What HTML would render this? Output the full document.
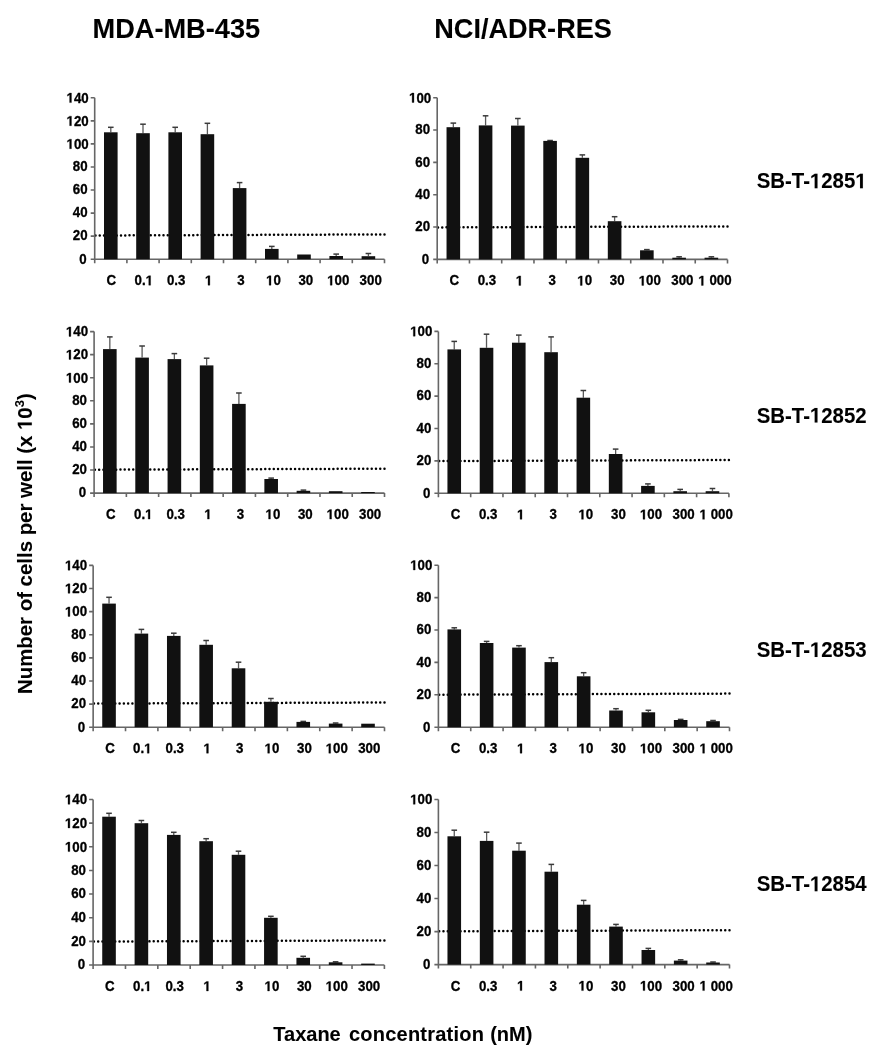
<!DOCTYPE html>
<html><head><meta charset="utf-8"><style>
html,body{margin:0;padding:0;background:#fff;}
body{width:881px;height:1050px;overflow:hidden;}
svg{display:block;filter:grayscale(1);font-family:"Liberation Sans", sans-serif;font-weight:bold;}
text{stroke:#000;stroke-linejoin:round;}
.h{fill-opacity:0;stroke-opacity:0;}
use{fill:#000;stroke:#000;stroke-linejoin:round;}
</style></head><body>
<svg width="881" height="1050" viewBox="0 0 881 1050">
<defs><path id="one" d="M478 0L478 1170L140 959L140 1180L493 1409L759 1409L759 0Z"/></defs><rect width="881" height="1050" fill="#fff"/>
<g stroke-width="0.08">
<text transform="translate(92.5 38.4) scale(1 1.04)" font-size="27.2">MDA-MB-435</text>
<text transform="translate(434.3 38.4) scale(1 1.04)" font-size="27.1">NCI/ADR-RES</text>
<text transform="translate(756.7 188.3) scale(1 1.04)" font-size="20.4">SB-T-<tspan class="h">1</tspan>285<tspan class="h">1</tspan></text><use href="#one" transform="translate(756.7 188.3) scale(1 1.04) translate(53.22 0.00) scale(0.00996 -0.00996)" stroke-width="8.0"/><use href="#one" transform="translate(756.7 188.3) scale(1 1.04) translate(98.59 0.00) scale(0.00996 -0.00996)" stroke-width="8.0"/>
<text transform="translate(756.7 422.5) scale(1 1.04)" font-size="20.4">SB-T-<tspan class="h">1</tspan>2852</text><use href="#one" transform="translate(756.7 422.5) scale(1 1.04) translate(53.22 0.00) scale(0.00996 -0.00996)" stroke-width="8.0"/>
<text transform="translate(756.7 657) scale(1 1.04)" font-size="20.4">SB-T-<tspan class="h">1</tspan>2853</text><use href="#one" transform="translate(756.7 657) scale(1 1.04) translate(53.22 0.00) scale(0.00996 -0.00996)" stroke-width="8.0"/>
<text transform="translate(756.7 891.2) scale(1 1.04)" font-size="20.4">SB-T-<tspan class="h">1</tspan>2854</text><use href="#one" transform="translate(756.7 891.2) scale(1 1.04) translate(53.22 0.00) scale(0.00996 -0.00996)" stroke-width="8.0"/>
<text transform="translate(31.8,694) rotate(-90)" font-size="20.4">Number of cells per well (x <tspan class="h">1</tspan>0<tspan font-size="13" dy="-7.4">3</tspan><tspan dy="7.4">)</tspan></text><use href="#one" transform="translate(31.8,694) rotate(-90) translate(264.03 0.00) scale(0.00996 -0.00996)" stroke-width="8.0"/>
<text x="273.3" y="1040.8" font-size="20">Taxane</text>
<text x="349" y="1040.8" font-size="20" letter-spacing="0.22">concentration</text>
<text x="490.2" y="1040.8" font-size="20">(nM)</text>
</g>
<g font-size="13.3" fill="#000" stroke-width="0.3">
<line x1="95.5" y1="235.5" x2="384.55" y2="234.4" stroke="#000" stroke-width="2.5" stroke-linecap="round" stroke-dasharray="0.01 4.2400"/>
<path d="M94.7 97.8V259.2M90.7 259.2H94.7M90.7 236.14H94.7M90.7 213.09H94.7M90.7 190.03H94.7M90.7 166.97H94.7M90.7 143.91H94.7M90.7 120.86H94.7M90.7 97.8H94.7M90.7 259.2H384.5M94.7 259.2V263.2M126.9 259.2V263.2M159.1 259.2V263.2M191.3 259.2V263.2M223.5 259.2V263.2M255.7 259.2V263.2M287.9 259.2V263.2M320.1 259.2V263.2M352.3 259.2V263.2M384.5 259.2V263.2" stroke="#666" stroke-width="1.6" fill="none"/>
<line x1="110.8" y1="132.3" x2="110.8" y2="127.3" stroke="#5a5a5a" stroke-width="1.3"/>
<line x1="108" y1="127.3" x2="113.6" y2="127.3" stroke="#3a3a3a" stroke-width="1.5"/>
<rect x="104" y="132.3" width="13.6" height="126.9" fill="#111"/>
<line x1="143" y1="133.2" x2="143" y2="124.2" stroke="#5a5a5a" stroke-width="1.3"/>
<line x1="140.2" y1="124.2" x2="145.8" y2="124.2" stroke="#3a3a3a" stroke-width="1.5"/>
<rect x="136.2" y="133.2" width="13.6" height="126" fill="#111"/>
<line x1="175.2" y1="132.3" x2="175.2" y2="127.3" stroke="#5a5a5a" stroke-width="1.3"/>
<line x1="172.4" y1="127.3" x2="178" y2="127.3" stroke="#3a3a3a" stroke-width="1.5"/>
<rect x="168.4" y="132.3" width="13.6" height="126.9" fill="#111"/>
<line x1="207.4" y1="134.2" x2="207.4" y2="123.3" stroke="#5a5a5a" stroke-width="1.3"/>
<line x1="204.6" y1="123.3" x2="210.2" y2="123.3" stroke="#3a3a3a" stroke-width="1.5"/>
<rect x="200.6" y="134.2" width="13.6" height="125" fill="#111"/>
<line x1="239.6" y1="188.1" x2="239.6" y2="182.6" stroke="#5a5a5a" stroke-width="1.3"/>
<line x1="236.8" y1="182.6" x2="242.4" y2="182.6" stroke="#3a3a3a" stroke-width="1.5"/>
<rect x="232.8" y="188.1" width="13.6" height="71.1" fill="#111"/>
<line x1="271.8" y1="248.9" x2="271.8" y2="246.4" stroke="#5a5a5a" stroke-width="1.3"/>
<line x1="269" y1="246.4" x2="274.6" y2="246.4" stroke="#3a3a3a" stroke-width="1.5"/>
<rect x="265" y="248.9" width="13.6" height="10.3" fill="#111"/>
<rect x="297.2" y="254.5" width="13.6" height="4.7" fill="#111"/>
<line x1="336.2" y1="256" x2="336.2" y2="254.1" stroke="#5a5a5a" stroke-width="1.3"/>
<line x1="333.4" y1="254.1" x2="339" y2="254.1" stroke="#3a3a3a" stroke-width="1.5"/>
<rect x="329.4" y="256" width="13.6" height="3.2" fill="#111"/>
<line x1="368.4" y1="256.2" x2="368.4" y2="253.5" stroke="#5a5a5a" stroke-width="1.3"/>
<line x1="365.6" y1="253.5" x2="371.2" y2="253.5" stroke="#3a3a3a" stroke-width="1.5"/>
<rect x="361.6" y="256.2" width="13.6" height="3" fill="#111"/>
<text transform="translate(86.7 263.5) scale(1 1.04)" text-anchor="end">0</text>
<text transform="translate(87.6 240.44) scale(1 1.04)" text-anchor="end">20</text>
<text transform="translate(87.6 217.39) scale(1 1.04)" text-anchor="end">40</text>
<text transform="translate(87.6 194.33) scale(1 1.04)" text-anchor="end">60</text>
<text transform="translate(87.6 171.27) scale(1 1.04)" text-anchor="end">80</text>
<text transform="translate(88.7 148.71) scale(1 1.04)" text-anchor="end"><tspan class="h">1</tspan>00</text><use href="#one" transform="translate(88.7 148.71) scale(1 1.04) translate(-22.18 0.00) scale(0.00649 -0.00649)" stroke-width="46.2"/>
<text transform="translate(88.7 125.66) scale(1 1.04)" text-anchor="end"><tspan class="h">1</tspan>20</text><use href="#one" transform="translate(88.7 125.66) scale(1 1.04) translate(-22.18 0.00) scale(0.00649 -0.00649)" stroke-width="46.2"/>
<text transform="translate(88.7 102.6) scale(1 1.04)" text-anchor="end"><tspan class="h">1</tspan>40</text><use href="#one" transform="translate(88.7 102.6) scale(1 1.04) translate(-22.18 0.00) scale(0.00649 -0.00649)" stroke-width="46.2"/>
<text transform="translate(111.4 285.2) scale(1 1.04)" text-anchor="middle">C</text>
<text transform="translate(143.81 285.2) scale(1 1.04)" text-anchor="middle">0.<tspan class="h">1</tspan></text><use href="#one" transform="translate(143.81 285.2) scale(1 1.04) translate(1.85 0.00) scale(0.00649 -0.00649)" stroke-width="46.2"/>
<text transform="translate(176.22 285.2) scale(1 1.04)" text-anchor="middle">0.3</text>
<text transform="translate(208.63 285.2) scale(1 1.04)" text-anchor="middle"><tspan class="h">1</tspan></text><use href="#one" transform="translate(208.63 285.2) scale(1 1.04) translate(-3.70 0.00) scale(0.00649 -0.00649)" stroke-width="46.2"/>
<text transform="translate(241.04 285.2) scale(1 1.04)" text-anchor="middle">3</text>
<text transform="translate(273.45 285.2) scale(1 1.04)" text-anchor="middle"><tspan class="h">1</tspan>0</text><use href="#one" transform="translate(273.45 285.2) scale(1 1.04) translate(-7.40 0.00) scale(0.00649 -0.00649)" stroke-width="46.2"/>
<text transform="translate(305.86 285.2) scale(1 1.04)" text-anchor="middle">30</text>
<text transform="translate(338.27 285.2) scale(1 1.04)" text-anchor="middle"><tspan class="h">1</tspan>00</text><use href="#one" transform="translate(338.27 285.2) scale(1 1.04) translate(-11.09 0.00) scale(0.00649 -0.00649)" stroke-width="46.2"/>
<text transform="translate(370.68 285.2) scale(1 1.04)" text-anchor="middle">300</text>
<line x1="94.9" y1="469.7" x2="384.55" y2="468.7" stroke="#000" stroke-width="2.5" stroke-linecap="round" stroke-dasharray="0.01 4.2488"/>
<path d="M94.1 331.6V493.1M90.1 493.1H94.1M90.1 470.03H94.1M90.1 446.96H94.1M90.1 423.89H94.1M90.1 400.81H94.1M90.1 377.74H94.1M90.1 354.67H94.1M90.1 331.6H94.1M90.1 493.1H384.5M94.1 493.1V497.1M126.37 493.1V497.1M158.63 493.1V497.1M190.9 493.1V497.1M223.17 493.1V497.1M255.43 493.1V497.1M287.7 493.1V497.1M319.97 493.1V497.1M352.23 493.1V497.1M384.5 493.1V497.1" stroke="#666" stroke-width="1.6" fill="none"/>
<line x1="109.83" y1="349.1" x2="109.83" y2="336.9" stroke="#5a5a5a" stroke-width="1.3"/>
<line x1="107.03" y1="336.9" x2="112.63" y2="336.9" stroke="#3a3a3a" stroke-width="1.5"/>
<rect x="103.03" y="349.1" width="13.6" height="144" fill="#111"/>
<line x1="142.1" y1="357.6" x2="142.1" y2="346" stroke="#5a5a5a" stroke-width="1.3"/>
<line x1="139.3" y1="346" x2="144.9" y2="346" stroke="#3a3a3a" stroke-width="1.5"/>
<rect x="135.3" y="357.6" width="13.6" height="135.5" fill="#111"/>
<line x1="174.37" y1="359.1" x2="174.37" y2="353.6" stroke="#5a5a5a" stroke-width="1.3"/>
<line x1="171.57" y1="353.6" x2="177.17" y2="353.6" stroke="#3a3a3a" stroke-width="1.5"/>
<rect x="167.57" y="359.1" width="13.6" height="134" fill="#111"/>
<line x1="206.63" y1="365.4" x2="206.63" y2="358.2" stroke="#5a5a5a" stroke-width="1.3"/>
<line x1="203.83" y1="358.2" x2="209.43" y2="358.2" stroke="#3a3a3a" stroke-width="1.5"/>
<rect x="199.83" y="365.4" width="13.6" height="127.7" fill="#111"/>
<line x1="238.9" y1="403.9" x2="238.9" y2="393" stroke="#5a5a5a" stroke-width="1.3"/>
<line x1="236.1" y1="393" x2="241.7" y2="393" stroke="#3a3a3a" stroke-width="1.5"/>
<rect x="232.1" y="403.9" width="13.6" height="89.2" fill="#111"/>
<line x1="271.17" y1="479" x2="271.17" y2="478.1" stroke="#5a5a5a" stroke-width="1.3"/>
<line x1="268.37" y1="478.1" x2="273.97" y2="478.1" stroke="#3a3a3a" stroke-width="1.5"/>
<rect x="264.37" y="479" width="13.6" height="14.1" fill="#111"/>
<line x1="303.43" y1="490.8" x2="303.43" y2="490.1" stroke="#5a5a5a" stroke-width="1.3"/>
<line x1="300.63" y1="490.1" x2="306.23" y2="490.1" stroke="#3a3a3a" stroke-width="1.5"/>
<rect x="296.63" y="490.8" width="13.6" height="2.3" fill="#111"/>
<rect x="328.9" y="491.2" width="13.6" height="1.9" fill="#111"/>
<rect x="361.17" y="492" width="13.6" height="1.1" fill="#111"/>
<text transform="translate(86.1 497.4) scale(1 1.04)" text-anchor="end">0</text>
<text transform="translate(87 474.33) scale(1 1.04)" text-anchor="end">20</text>
<text transform="translate(87 451.26) scale(1 1.04)" text-anchor="end">40</text>
<text transform="translate(87 428.19) scale(1 1.04)" text-anchor="end">60</text>
<text transform="translate(87 405.11) scale(1 1.04)" text-anchor="end">80</text>
<text transform="translate(88.1 382.54) scale(1 1.04)" text-anchor="end"><tspan class="h">1</tspan>00</text><use href="#one" transform="translate(88.1 382.54) scale(1 1.04) translate(-22.18 0.00) scale(0.00649 -0.00649)" stroke-width="46.2"/>
<text transform="translate(88.1 359.47) scale(1 1.04)" text-anchor="end"><tspan class="h">1</tspan>20</text><use href="#one" transform="translate(88.1 359.47) scale(1 1.04) translate(-22.18 0.00) scale(0.00649 -0.00649)" stroke-width="46.2"/>
<text transform="translate(88.1 336.4) scale(1 1.04)" text-anchor="end"><tspan class="h">1</tspan>40</text><use href="#one" transform="translate(88.1 336.4) scale(1 1.04) translate(-22.18 0.00) scale(0.00649 -0.00649)" stroke-width="46.2"/>
<text transform="translate(110.83 519.1) scale(1 1.04)" text-anchor="middle">C</text>
<text transform="translate(143.24 519.1) scale(1 1.04)" text-anchor="middle">0.<tspan class="h">1</tspan></text><use href="#one" transform="translate(143.24 519.1) scale(1 1.04) translate(1.85 0.00) scale(0.00649 -0.00649)" stroke-width="46.2"/>
<text transform="translate(175.65 519.1) scale(1 1.04)" text-anchor="middle">0.3</text>
<text transform="translate(208.06 519.1) scale(1 1.04)" text-anchor="middle"><tspan class="h">1</tspan></text><use href="#one" transform="translate(208.06 519.1) scale(1 1.04) translate(-3.70 0.00) scale(0.00649 -0.00649)" stroke-width="46.2"/>
<text transform="translate(240.47 519.1) scale(1 1.04)" text-anchor="middle">3</text>
<text transform="translate(272.88 519.1) scale(1 1.04)" text-anchor="middle"><tspan class="h">1</tspan>0</text><use href="#one" transform="translate(272.88 519.1) scale(1 1.04) translate(-7.40 0.00) scale(0.00649 -0.00649)" stroke-width="46.2"/>
<text transform="translate(305.29 519.1) scale(1 1.04)" text-anchor="middle">30</text>
<text transform="translate(337.7 519.1) scale(1 1.04)" text-anchor="middle"><tspan class="h">1</tspan>00</text><use href="#one" transform="translate(337.7 519.1) scale(1 1.04) translate(-11.09 0.00) scale(0.00649 -0.00649)" stroke-width="46.2"/>
<text transform="translate(370.11 519.1) scale(1 1.04)" text-anchor="middle">300</text>
<line x1="93.95" y1="703.6" x2="384.55" y2="702.5" stroke="#000" stroke-width="2.5" stroke-linecap="round" stroke-dasharray="0.01 4.2628"/>
<path d="M93.15 565.4V727.2M89.15 727.2H93.15M89.15 704.09H93.15M89.15 680.97H93.15M89.15 657.86H93.15M89.15 634.74H93.15M89.15 611.63H93.15M89.15 588.51H93.15M89.15 565.4H93.15M89.15 727.2H384.5M93.15 727.2V731.2M125.52 727.2V731.2M157.89 727.2V731.2M190.27 727.2V731.2M222.64 727.2V731.2M255.01 727.2V731.2M287.38 727.2V731.2M319.76 727.2V731.2M352.13 727.2V731.2M384.5 727.2V731.2" stroke="#666" stroke-width="1.6" fill="none"/>
<line x1="109.04" y1="603.6" x2="109.04" y2="597.3" stroke="#5a5a5a" stroke-width="1.3"/>
<line x1="106.24" y1="597.3" x2="111.84" y2="597.3" stroke="#3a3a3a" stroke-width="1.5"/>
<rect x="102.24" y="603.6" width="13.6" height="123.6" fill="#111"/>
<line x1="141.41" y1="633.6" x2="141.41" y2="629.4" stroke="#5a5a5a" stroke-width="1.3"/>
<line x1="138.61" y1="629.4" x2="144.21" y2="629.4" stroke="#3a3a3a" stroke-width="1.5"/>
<rect x="134.61" y="633.6" width="13.6" height="93.6" fill="#111"/>
<line x1="173.78" y1="635.9" x2="173.78" y2="633.2" stroke="#5a5a5a" stroke-width="1.3"/>
<line x1="170.98" y1="633.2" x2="176.58" y2="633.2" stroke="#3a3a3a" stroke-width="1.5"/>
<rect x="166.98" y="635.9" width="13.6" height="91.3" fill="#111"/>
<line x1="206.15" y1="644.8" x2="206.15" y2="640.5" stroke="#5a5a5a" stroke-width="1.3"/>
<line x1="203.35" y1="640.5" x2="208.95" y2="640.5" stroke="#3a3a3a" stroke-width="1.5"/>
<rect x="199.35" y="644.8" width="13.6" height="82.4" fill="#111"/>
<line x1="238.53" y1="668.3" x2="238.53" y2="662.2" stroke="#5a5a5a" stroke-width="1.3"/>
<line x1="235.72" y1="662.2" x2="241.33" y2="662.2" stroke="#3a3a3a" stroke-width="1.5"/>
<rect x="231.72" y="668.3" width="13.6" height="58.9" fill="#111"/>
<line x1="270.9" y1="701.8" x2="270.9" y2="698.5" stroke="#5a5a5a" stroke-width="1.3"/>
<line x1="268.1" y1="698.5" x2="273.7" y2="698.5" stroke="#3a3a3a" stroke-width="1.5"/>
<rect x="264.1" y="701.8" width="13.6" height="25.4" fill="#111"/>
<line x1="303.27" y1="721.9" x2="303.27" y2="721.4" stroke="#5a5a5a" stroke-width="1.3"/>
<line x1="300.47" y1="721.4" x2="306.07" y2="721.4" stroke="#3a3a3a" stroke-width="1.5"/>
<rect x="296.47" y="721.9" width="13.6" height="5.3" fill="#111"/>
<line x1="335.64" y1="723.6" x2="335.64" y2="723" stroke="#5a5a5a" stroke-width="1.3"/>
<line x1="332.84" y1="723" x2="338.44" y2="723" stroke="#3a3a3a" stroke-width="1.5"/>
<rect x="328.84" y="723.6" width="13.6" height="3.6" fill="#111"/>
<rect x="361.21" y="723.7" width="13.6" height="3.5" fill="#111"/>
<text transform="translate(85.15 731.5) scale(1 1.04)" text-anchor="end">0</text>
<text transform="translate(86.05 708.39) scale(1 1.04)" text-anchor="end">20</text>
<text transform="translate(86.05 685.27) scale(1 1.04)" text-anchor="end">40</text>
<text transform="translate(86.05 662.16) scale(1 1.04)" text-anchor="end">60</text>
<text transform="translate(86.05 639.04) scale(1 1.04)" text-anchor="end">80</text>
<text transform="translate(87.15 616.43) scale(1 1.04)" text-anchor="end"><tspan class="h">1</tspan>00</text><use href="#one" transform="translate(87.15 616.43) scale(1 1.04) translate(-22.18 0.00) scale(0.00649 -0.00649)" stroke-width="46.2"/>
<text transform="translate(87.15 593.31) scale(1 1.04)" text-anchor="end"><tspan class="h">1</tspan>20</text><use href="#one" transform="translate(87.15 593.31) scale(1 1.04) translate(-22.18 0.00) scale(0.00649 -0.00649)" stroke-width="46.2"/>
<text transform="translate(87.15 570.2) scale(1 1.04)" text-anchor="end"><tspan class="h">1</tspan>40</text><use href="#one" transform="translate(87.15 570.2) scale(1 1.04) translate(-22.18 0.00) scale(0.00649 -0.00649)" stroke-width="46.2"/>
<text transform="translate(109.94 753.2) scale(1 1.04)" text-anchor="middle">C</text>
<text transform="translate(142.35 753.2) scale(1 1.04)" text-anchor="middle">0.<tspan class="h">1</tspan></text><use href="#one" transform="translate(142.35 753.2) scale(1 1.04) translate(1.85 0.00) scale(0.00649 -0.00649)" stroke-width="46.2"/>
<text transform="translate(174.76 753.2) scale(1 1.04)" text-anchor="middle">0.3</text>
<text transform="translate(207.17 753.2) scale(1 1.04)" text-anchor="middle"><tspan class="h">1</tspan></text><use href="#one" transform="translate(207.17 753.2) scale(1 1.04) translate(-3.70 0.00) scale(0.00649 -0.00649)" stroke-width="46.2"/>
<text transform="translate(239.58 753.2) scale(1 1.04)" text-anchor="middle">3</text>
<text transform="translate(271.99 753.2) scale(1 1.04)" text-anchor="middle"><tspan class="h">1</tspan>0</text><use href="#one" transform="translate(271.99 753.2) scale(1 1.04) translate(-7.40 0.00) scale(0.00649 -0.00649)" stroke-width="46.2"/>
<text transform="translate(304.4 753.2) scale(1 1.04)" text-anchor="middle">30</text>
<text transform="translate(336.81 753.2) scale(1 1.04)" text-anchor="middle"><tspan class="h">1</tspan>00</text><use href="#one" transform="translate(336.81 753.2) scale(1 1.04) translate(-11.09 0.00) scale(0.00649 -0.00649)" stroke-width="46.2"/>
<text transform="translate(369.22 753.2) scale(1 1.04)" text-anchor="middle">300</text>
<line x1="93.9" y1="941.6" x2="384.45" y2="940.4" stroke="#000" stroke-width="2.5" stroke-linecap="round" stroke-dasharray="0.01 4.2621"/>
<path d="M93.1 799.5V965M89.1 965H93.1M89.1 941.36H93.1M89.1 917.71H93.1M89.1 894.07H93.1M89.1 870.43H93.1M89.1 846.79H93.1M89.1 823.14H93.1M89.1 799.5H93.1M89.1 965H384.4M93.1 965V969M125.47 965V969M157.83 965V969M190.2 965V969M222.57 965V969M254.93 965V969M287.3 965V969M319.67 965V969M352.03 965V969M384.4 965V969" stroke="#666" stroke-width="1.6" fill="none"/>
<line x1="109.03" y1="816.7" x2="109.03" y2="813.3" stroke="#5a5a5a" stroke-width="1.3"/>
<line x1="106.23" y1="813.3" x2="111.83" y2="813.3" stroke="#3a3a3a" stroke-width="1.5"/>
<rect x="102.23" y="816.7" width="13.6" height="148.3" fill="#111"/>
<line x1="141.4" y1="823.2" x2="141.4" y2="820.5" stroke="#5a5a5a" stroke-width="1.3"/>
<line x1="138.6" y1="820.5" x2="144.2" y2="820.5" stroke="#3a3a3a" stroke-width="1.5"/>
<rect x="134.6" y="823.2" width="13.6" height="141.8" fill="#111"/>
<line x1="173.77" y1="834.9" x2="173.77" y2="832.3" stroke="#5a5a5a" stroke-width="1.3"/>
<line x1="170.97" y1="832.3" x2="176.57" y2="832.3" stroke="#3a3a3a" stroke-width="1.5"/>
<rect x="166.97" y="834.9" width="13.6" height="130.1" fill="#111"/>
<line x1="206.13" y1="841.2" x2="206.13" y2="838.7" stroke="#5a5a5a" stroke-width="1.3"/>
<line x1="203.33" y1="838.7" x2="208.93" y2="838.7" stroke="#3a3a3a" stroke-width="1.5"/>
<rect x="199.33" y="841.2" width="13.6" height="123.8" fill="#111"/>
<line x1="238.5" y1="854.8" x2="238.5" y2="851.2" stroke="#5a5a5a" stroke-width="1.3"/>
<line x1="235.7" y1="851.2" x2="241.3" y2="851.2" stroke="#3a3a3a" stroke-width="1.5"/>
<rect x="231.7" y="854.8" width="13.6" height="110.2" fill="#111"/>
<line x1="270.87" y1="917.8" x2="270.87" y2="916.3" stroke="#5a5a5a" stroke-width="1.3"/>
<line x1="268.07" y1="916.3" x2="273.67" y2="916.3" stroke="#3a3a3a" stroke-width="1.5"/>
<rect x="264.07" y="917.8" width="13.6" height="47.2" fill="#111"/>
<line x1="303.23" y1="957.8" x2="303.23" y2="956.3" stroke="#5a5a5a" stroke-width="1.3"/>
<line x1="300.43" y1="956.3" x2="306.03" y2="956.3" stroke="#3a3a3a" stroke-width="1.5"/>
<rect x="296.43" y="957.8" width="13.6" height="7.2" fill="#111"/>
<line x1="335.6" y1="962.3" x2="335.6" y2="961.8" stroke="#5a5a5a" stroke-width="1.3"/>
<line x1="332.8" y1="961.8" x2="338.4" y2="961.8" stroke="#3a3a3a" stroke-width="1.5"/>
<rect x="328.8" y="962.3" width="13.6" height="2.7" fill="#111"/>
<rect x="361.17" y="963.6" width="13.6" height="1.4" fill="#111"/>
<text transform="translate(85.1 969.3) scale(1 1.04)" text-anchor="end">0</text>
<text transform="translate(86 945.66) scale(1 1.04)" text-anchor="end">20</text>
<text transform="translate(86 922.01) scale(1 1.04)" text-anchor="end">40</text>
<text transform="translate(86 898.37) scale(1 1.04)" text-anchor="end">60</text>
<text transform="translate(86 874.73) scale(1 1.04)" text-anchor="end">80</text>
<text transform="translate(87.1 851.59) scale(1 1.04)" text-anchor="end"><tspan class="h">1</tspan>00</text><use href="#one" transform="translate(87.1 851.59) scale(1 1.04) translate(-22.18 0.00) scale(0.00649 -0.00649)" stroke-width="46.2"/>
<text transform="translate(87.1 827.94) scale(1 1.04)" text-anchor="end"><tspan class="h">1</tspan>20</text><use href="#one" transform="translate(87.1 827.94) scale(1 1.04) translate(-22.18 0.00) scale(0.00649 -0.00649)" stroke-width="46.2"/>
<text transform="translate(87.1 804.3) scale(1 1.04)" text-anchor="end"><tspan class="h">1</tspan>40</text><use href="#one" transform="translate(87.1 804.3) scale(1 1.04) translate(-22.18 0.00) scale(0.00649 -0.00649)" stroke-width="46.2"/>
<text transform="translate(109.88 991) scale(1 1.04)" text-anchor="middle">C</text>
<text transform="translate(142.29 991) scale(1 1.04)" text-anchor="middle">0.<tspan class="h">1</tspan></text><use href="#one" transform="translate(142.29 991) scale(1 1.04) translate(1.85 0.00) scale(0.00649 -0.00649)" stroke-width="46.2"/>
<text transform="translate(174.7 991) scale(1 1.04)" text-anchor="middle">0.3</text>
<text transform="translate(207.11 991) scale(1 1.04)" text-anchor="middle"><tspan class="h">1</tspan></text><use href="#one" transform="translate(207.11 991) scale(1 1.04) translate(-3.70 0.00) scale(0.00649 -0.00649)" stroke-width="46.2"/>
<text transform="translate(239.52 991) scale(1 1.04)" text-anchor="middle">3</text>
<text transform="translate(271.93 991) scale(1 1.04)" text-anchor="middle"><tspan class="h">1</tspan>0</text><use href="#one" transform="translate(271.93 991) scale(1 1.04) translate(-7.40 0.00) scale(0.00649 -0.00649)" stroke-width="46.2"/>
<text transform="translate(304.34 991) scale(1 1.04)" text-anchor="middle">30</text>
<text transform="translate(336.75 991) scale(1 1.04)" text-anchor="middle"><tspan class="h">1</tspan>00</text><use href="#one" transform="translate(336.75 991) scale(1 1.04) translate(-11.09 0.00) scale(0.00649 -0.00649)" stroke-width="46.2"/>
<text transform="translate(369.16 991) scale(1 1.04)" text-anchor="middle">300</text>
<line x1="438" y1="227.4" x2="727.55" y2="226.4" stroke="#000" stroke-width="2.5" stroke-linecap="round" stroke-dasharray="0.01 4.2474"/>
<path d="M437.2 97.7V259.4M433.2 259.4H437.2M433.2 227.06H437.2M433.2 194.72H437.2M433.2 162.38H437.2M433.2 130.04H437.2M433.2 97.7H437.2M433.2 259.4H727.5M437.2 259.4V263.4M469.46 259.4V263.4M501.71 259.4V263.4M533.97 259.4V263.4M566.22 259.4V263.4M598.48 259.4V263.4M630.73 259.4V263.4M662.99 259.4V263.4M695.24 259.4V263.4M727.5 259.4V263.4" stroke="#666" stroke-width="1.6" fill="none"/>
<line x1="453.33" y1="127.2" x2="453.33" y2="123.1" stroke="#5a5a5a" stroke-width="1.3"/>
<line x1="450.53" y1="123.1" x2="456.13" y2="123.1" stroke="#3a3a3a" stroke-width="1.5"/>
<rect x="446.53" y="127.2" width="13.6" height="132.2" fill="#111"/>
<line x1="485.58" y1="125.4" x2="485.58" y2="115.8" stroke="#5a5a5a" stroke-width="1.3"/>
<line x1="482.78" y1="115.8" x2="488.38" y2="115.8" stroke="#3a3a3a" stroke-width="1.5"/>
<rect x="478.78" y="125.4" width="13.6" height="134" fill="#111"/>
<line x1="517.84" y1="125.6" x2="517.84" y2="118.5" stroke="#5a5a5a" stroke-width="1.3"/>
<line x1="515.04" y1="118.5" x2="520.64" y2="118.5" stroke="#3a3a3a" stroke-width="1.5"/>
<rect x="511.04" y="125.6" width="13.6" height="133.8" fill="#111"/>
<line x1="550.09" y1="140.9" x2="550.09" y2="140.5" stroke="#5a5a5a" stroke-width="1.3"/>
<line x1="547.29" y1="140.5" x2="552.89" y2="140.5" stroke="#3a3a3a" stroke-width="1.5"/>
<rect x="543.29" y="140.9" width="13.6" height="118.5" fill="#111"/>
<line x1="582.35" y1="157.8" x2="582.35" y2="154.9" stroke="#5a5a5a" stroke-width="1.3"/>
<line x1="579.55" y1="154.9" x2="585.15" y2="154.9" stroke="#3a3a3a" stroke-width="1.5"/>
<rect x="575.55" y="157.8" width="13.6" height="101.6" fill="#111"/>
<line x1="614.61" y1="221.2" x2="614.61" y2="216.7" stroke="#5a5a5a" stroke-width="1.3"/>
<line x1="611.81" y1="216.7" x2="617.41" y2="216.7" stroke="#3a3a3a" stroke-width="1.5"/>
<rect x="607.81" y="221.2" width="13.6" height="38.2" fill="#111"/>
<line x1="646.86" y1="250.3" x2="646.86" y2="249.6" stroke="#5a5a5a" stroke-width="1.3"/>
<line x1="644.06" y1="249.6" x2="649.66" y2="249.6" stroke="#3a3a3a" stroke-width="1.5"/>
<rect x="640.06" y="250.3" width="13.6" height="9.1" fill="#111"/>
<line x1="679.12" y1="257.7" x2="679.12" y2="256.8" stroke="#5a5a5a" stroke-width="1.3"/>
<line x1="676.32" y1="256.8" x2="681.92" y2="256.8" stroke="#3a3a3a" stroke-width="1.5"/>
<rect x="672.32" y="257.7" width="13.6" height="1.7" fill="#111"/>
<line x1="711.37" y1="257.7" x2="711.37" y2="256.8" stroke="#5a5a5a" stroke-width="1.3"/>
<line x1="708.57" y1="256.8" x2="714.17" y2="256.8" stroke="#3a3a3a" stroke-width="1.5"/>
<rect x="704.57" y="257.7" width="13.6" height="1.7" fill="#111"/>
<text transform="translate(429.2 263.7) scale(1 1.04)" text-anchor="end">0</text>
<text transform="translate(430.1 231.36) scale(1 1.04)" text-anchor="end">20</text>
<text transform="translate(430.1 199.02) scale(1 1.04)" text-anchor="end">40</text>
<text transform="translate(430.1 166.68) scale(1 1.04)" text-anchor="end">60</text>
<text transform="translate(430.1 134.34) scale(1 1.04)" text-anchor="end">80</text>
<text transform="translate(431.2 102.5) scale(1 1.04)" text-anchor="end"><tspan class="h">1</tspan>00</text><use href="#one" transform="translate(431.2 102.5) scale(1 1.04) translate(-22.18 0.00) scale(0.00649 -0.00649)" stroke-width="46.2"/>
<text transform="translate(454.33 285.4) scale(1 1.04)" text-anchor="middle">C</text>
<text transform="translate(486.91 285.4) scale(1 1.04)" text-anchor="middle">0.3</text>
<text transform="translate(519.49 285.4) scale(1 1.04)" text-anchor="middle"><tspan class="h">1</tspan></text><use href="#one" transform="translate(519.49 285.4) scale(1 1.04) translate(-3.70 0.00) scale(0.00649 -0.00649)" stroke-width="46.2"/>
<text transform="translate(552.07 285.4) scale(1 1.04)" text-anchor="middle">3</text>
<text transform="translate(584.65 285.4) scale(1 1.04)" text-anchor="middle"><tspan class="h">1</tspan>0</text><use href="#one" transform="translate(584.65 285.4) scale(1 1.04) translate(-7.40 0.00) scale(0.00649 -0.00649)" stroke-width="46.2"/>
<text transform="translate(617.23 285.4) scale(1 1.04)" text-anchor="middle">30</text>
<text transform="translate(649.81 285.4) scale(1 1.04)" text-anchor="middle"><tspan class="h">1</tspan>00</text><use href="#one" transform="translate(649.81 285.4) scale(1 1.04) translate(-11.09 0.00) scale(0.00649 -0.00649)" stroke-width="46.2"/>
<text transform="translate(682.39 285.4) scale(1 1.04)" text-anchor="middle">300</text>
<text transform="translate(714.97 285.4) scale(1 1.04)" text-anchor="middle"><tspan class="h">1</tspan> 000</text><use href="#one" transform="translate(714.97 285.4) scale(1 1.04) translate(-16.63 0.00) scale(0.00649 -0.00649)" stroke-width="46.2"/>
<line x1="439.2" y1="461.1" x2="728.95" y2="460" stroke="#000" stroke-width="2.5" stroke-linecap="round" stroke-dasharray="0.01 4.2503"/>
<path d="M438.4 331.4V493.3M434.4 493.3H438.4M434.4 460.92H438.4M434.4 428.54H438.4M434.4 396.16H438.4M434.4 363.78H438.4M434.4 331.4H438.4M434.4 493.3H728.9M438.4 493.3V497.3M470.68 493.3V497.3M502.96 493.3V497.3M535.23 493.3V497.3M567.51 493.3V497.3M599.79 493.3V497.3M632.07 493.3V497.3M664.34 493.3V497.3M696.62 493.3V497.3M728.9 493.3V497.3" stroke="#666" stroke-width="1.6" fill="none"/>
<line x1="454.24" y1="349.4" x2="454.24" y2="341.4" stroke="#5a5a5a" stroke-width="1.3"/>
<line x1="451.44" y1="341.4" x2="457.04" y2="341.4" stroke="#3a3a3a" stroke-width="1.5"/>
<rect x="447.44" y="349.4" width="13.6" height="143.9" fill="#111"/>
<line x1="486.52" y1="347.8" x2="486.52" y2="334.2" stroke="#5a5a5a" stroke-width="1.3"/>
<line x1="483.72" y1="334.2" x2="489.32" y2="334.2" stroke="#3a3a3a" stroke-width="1.5"/>
<rect x="479.72" y="347.8" width="13.6" height="145.5" fill="#111"/>
<line x1="518.79" y1="342.7" x2="518.79" y2="335.1" stroke="#5a5a5a" stroke-width="1.3"/>
<line x1="515.99" y1="335.1" x2="521.59" y2="335.1" stroke="#3a3a3a" stroke-width="1.5"/>
<rect x="511.99" y="342.7" width="13.6" height="150.6" fill="#111"/>
<line x1="551.07" y1="352.2" x2="551.07" y2="336.9" stroke="#5a5a5a" stroke-width="1.3"/>
<line x1="548.27" y1="336.9" x2="553.87" y2="336.9" stroke="#3a3a3a" stroke-width="1.5"/>
<rect x="544.27" y="352.2" width="13.6" height="141.1" fill="#111"/>
<line x1="583.35" y1="397.7" x2="583.35" y2="390.5" stroke="#5a5a5a" stroke-width="1.3"/>
<line x1="580.55" y1="390.5" x2="586.15" y2="390.5" stroke="#3a3a3a" stroke-width="1.5"/>
<rect x="576.55" y="397.7" width="13.6" height="95.6" fill="#111"/>
<line x1="615.63" y1="454" x2="615.63" y2="449.1" stroke="#5a5a5a" stroke-width="1.3"/>
<line x1="612.83" y1="449.1" x2="618.43" y2="449.1" stroke="#3a3a3a" stroke-width="1.5"/>
<rect x="608.83" y="454" width="13.6" height="39.3" fill="#111"/>
<line x1="647.91" y1="485.9" x2="647.91" y2="483.9" stroke="#5a5a5a" stroke-width="1.3"/>
<line x1="645.11" y1="483.9" x2="650.71" y2="483.9" stroke="#3a3a3a" stroke-width="1.5"/>
<rect x="641.11" y="485.9" width="13.6" height="7.4" fill="#111"/>
<line x1="680.18" y1="491.2" x2="680.18" y2="489.4" stroke="#5a5a5a" stroke-width="1.3"/>
<line x1="677.38" y1="489.4" x2="682.98" y2="489.4" stroke="#3a3a3a" stroke-width="1.5"/>
<rect x="673.38" y="491.2" width="13.6" height="2.1" fill="#111"/>
<line x1="712.46" y1="491.2" x2="712.46" y2="488.5" stroke="#5a5a5a" stroke-width="1.3"/>
<line x1="709.66" y1="488.5" x2="715.26" y2="488.5" stroke="#3a3a3a" stroke-width="1.5"/>
<rect x="705.66" y="491.2" width="13.6" height="2.1" fill="#111"/>
<text transform="translate(430.4 497.6) scale(1 1.04)" text-anchor="end">0</text>
<text transform="translate(431.3 465.22) scale(1 1.04)" text-anchor="end">20</text>
<text transform="translate(431.3 432.84) scale(1 1.04)" text-anchor="end">40</text>
<text transform="translate(431.3 400.46) scale(1 1.04)" text-anchor="end">60</text>
<text transform="translate(431.3 368.08) scale(1 1.04)" text-anchor="end">80</text>
<text transform="translate(432.4 336.2) scale(1 1.04)" text-anchor="end"><tspan class="h">1</tspan>00</text><use href="#one" transform="translate(432.4 336.2) scale(1 1.04) translate(-22.18 0.00) scale(0.00649 -0.00649)" stroke-width="46.2"/>
<text transform="translate(455.54 519.3) scale(1 1.04)" text-anchor="middle">C</text>
<text transform="translate(488.12 519.3) scale(1 1.04)" text-anchor="middle">0.3</text>
<text transform="translate(520.7 519.3) scale(1 1.04)" text-anchor="middle"><tspan class="h">1</tspan></text><use href="#one" transform="translate(520.7 519.3) scale(1 1.04) translate(-3.70 0.00) scale(0.00649 -0.00649)" stroke-width="46.2"/>
<text transform="translate(553.28 519.3) scale(1 1.04)" text-anchor="middle">3</text>
<text transform="translate(585.86 519.3) scale(1 1.04)" text-anchor="middle"><tspan class="h">1</tspan>0</text><use href="#one" transform="translate(585.86 519.3) scale(1 1.04) translate(-7.40 0.00) scale(0.00649 -0.00649)" stroke-width="46.2"/>
<text transform="translate(618.44 519.3) scale(1 1.04)" text-anchor="middle">30</text>
<text transform="translate(651.02 519.3) scale(1 1.04)" text-anchor="middle"><tspan class="h">1</tspan>00</text><use href="#one" transform="translate(651.02 519.3) scale(1 1.04) translate(-11.09 0.00) scale(0.00649 -0.00649)" stroke-width="46.2"/>
<text transform="translate(683.6 519.3) scale(1 1.04)" text-anchor="middle">300</text>
<text transform="translate(716.18 519.3) scale(1 1.04)" text-anchor="middle"><tspan class="h">1</tspan> 000</text><use href="#one" transform="translate(716.18 519.3) scale(1 1.04) translate(-16.63 0.00) scale(0.00649 -0.00649)" stroke-width="46.2"/>
<line x1="439.2" y1="694.7" x2="729.55" y2="693.6" stroke="#000" stroke-width="2.5" stroke-linecap="round" stroke-dasharray="0.01 4.2591"/>
<path d="M438.4 565.2V727.2M434.4 727.2H438.4M434.4 694.8H438.4M434.4 662.4H438.4M434.4 630H438.4M434.4 597.6H438.4M434.4 565.2H438.4M434.4 727.2H729.5M438.4 727.2V731.2M470.74 727.2V731.2M503.09 727.2V731.2M535.43 727.2V731.2M567.78 727.2V731.2M600.12 727.2V731.2M632.47 727.2V731.2M664.81 727.2V731.2M697.16 727.2V731.2M729.5 727.2V731.2" stroke="#666" stroke-width="1.6" fill="none"/>
<line x1="454.27" y1="629.4" x2="454.27" y2="627.8" stroke="#5a5a5a" stroke-width="1.3"/>
<line x1="451.47" y1="627.8" x2="457.07" y2="627.8" stroke="#3a3a3a" stroke-width="1.5"/>
<rect x="447.47" y="629.4" width="13.6" height="97.8" fill="#111"/>
<line x1="486.62" y1="643" x2="486.62" y2="641.4" stroke="#5a5a5a" stroke-width="1.3"/>
<line x1="483.82" y1="641.4" x2="489.42" y2="641.4" stroke="#3a3a3a" stroke-width="1.5"/>
<rect x="479.82" y="643" width="13.6" height="84.2" fill="#111"/>
<line x1="518.96" y1="647.6" x2="518.96" y2="645.7" stroke="#5a5a5a" stroke-width="1.3"/>
<line x1="516.16" y1="645.7" x2="521.76" y2="645.7" stroke="#3a3a3a" stroke-width="1.5"/>
<rect x="512.16" y="647.6" width="13.6" height="79.6" fill="#111"/>
<line x1="551.31" y1="662.1" x2="551.31" y2="657.7" stroke="#5a5a5a" stroke-width="1.3"/>
<line x1="548.51" y1="657.7" x2="554.11" y2="657.7" stroke="#3a3a3a" stroke-width="1.5"/>
<rect x="544.51" y="662.1" width="13.6" height="65.1" fill="#111"/>
<line x1="583.65" y1="676.3" x2="583.65" y2="672.7" stroke="#5a5a5a" stroke-width="1.3"/>
<line x1="580.85" y1="672.7" x2="586.45" y2="672.7" stroke="#3a3a3a" stroke-width="1.5"/>
<rect x="576.85" y="676.3" width="13.6" height="50.9" fill="#111"/>
<line x1="615.99" y1="710.5" x2="615.99" y2="708.7" stroke="#5a5a5a" stroke-width="1.3"/>
<line x1="613.19" y1="708.7" x2="618.79" y2="708.7" stroke="#3a3a3a" stroke-width="1.5"/>
<rect x="609.19" y="710.5" width="13.6" height="16.7" fill="#111"/>
<line x1="648.34" y1="712.3" x2="648.34" y2="710.3" stroke="#5a5a5a" stroke-width="1.3"/>
<line x1="645.54" y1="710.3" x2="651.14" y2="710.3" stroke="#3a3a3a" stroke-width="1.5"/>
<rect x="641.54" y="712.3" width="13.6" height="14.9" fill="#111"/>
<line x1="680.68" y1="720" x2="680.68" y2="719.4" stroke="#5a5a5a" stroke-width="1.3"/>
<line x1="677.88" y1="719.4" x2="683.48" y2="719.4" stroke="#3a3a3a" stroke-width="1.5"/>
<rect x="673.88" y="720" width="13.6" height="7.2" fill="#111"/>
<line x1="713.03" y1="721.2" x2="713.03" y2="720.5" stroke="#5a5a5a" stroke-width="1.3"/>
<line x1="710.23" y1="720.5" x2="715.83" y2="720.5" stroke="#3a3a3a" stroke-width="1.5"/>
<rect x="706.23" y="721.2" width="13.6" height="6" fill="#111"/>
<text transform="translate(430.4 731.5) scale(1 1.04)" text-anchor="end">0</text>
<text transform="translate(431.3 699.1) scale(1 1.04)" text-anchor="end">20</text>
<text transform="translate(431.3 666.7) scale(1 1.04)" text-anchor="end">40</text>
<text transform="translate(431.3 634.3) scale(1 1.04)" text-anchor="end">60</text>
<text transform="translate(431.3 601.9) scale(1 1.04)" text-anchor="end">80</text>
<text transform="translate(432.4 570) scale(1 1.04)" text-anchor="end"><tspan class="h">1</tspan>00</text><use href="#one" transform="translate(432.4 570) scale(1 1.04) translate(-22.18 0.00) scale(0.00649 -0.00649)" stroke-width="46.2"/>
<text transform="translate(455.57 753.2) scale(1 1.04)" text-anchor="middle">C</text>
<text transform="translate(488.15 753.2) scale(1 1.04)" text-anchor="middle">0.3</text>
<text transform="translate(520.73 753.2) scale(1 1.04)" text-anchor="middle"><tspan class="h">1</tspan></text><use href="#one" transform="translate(520.73 753.2) scale(1 1.04) translate(-3.70 0.00) scale(0.00649 -0.00649)" stroke-width="46.2"/>
<text transform="translate(553.31 753.2) scale(1 1.04)" text-anchor="middle">3</text>
<text transform="translate(585.89 753.2) scale(1 1.04)" text-anchor="middle"><tspan class="h">1</tspan>0</text><use href="#one" transform="translate(585.89 753.2) scale(1 1.04) translate(-7.40 0.00) scale(0.00649 -0.00649)" stroke-width="46.2"/>
<text transform="translate(618.47 753.2) scale(1 1.04)" text-anchor="middle">30</text>
<text transform="translate(651.05 753.2) scale(1 1.04)" text-anchor="middle"><tspan class="h">1</tspan>00</text><use href="#one" transform="translate(651.05 753.2) scale(1 1.04) translate(-11.09 0.00) scale(0.00649 -0.00649)" stroke-width="46.2"/>
<text transform="translate(683.63 753.2) scale(1 1.04)" text-anchor="middle">300</text>
<text transform="translate(716.21 753.2) scale(1 1.04)" text-anchor="middle"><tspan class="h">1</tspan> 000</text><use href="#one" transform="translate(716.21 753.2) scale(1 1.04) translate(-16.63 0.00) scale(0.00649 -0.00649)" stroke-width="46.2"/>
<line x1="439.2" y1="931.3" x2="729.55" y2="930.2" stroke="#000" stroke-width="2.5" stroke-linecap="round" stroke-dasharray="0.01 4.2591"/>
<path d="M438.4 799.5V964.6M434.4 964.6H438.4M434.4 931.58H438.4M434.4 898.56H438.4M434.4 865.54H438.4M434.4 832.52H438.4M434.4 799.5H438.4M434.4 964.6H729.5M438.4 964.6V968.6M470.74 964.6V968.6M503.09 964.6V968.6M535.43 964.6V968.6M567.78 964.6V968.6M600.12 964.6V968.6M632.47 964.6V968.6M664.81 964.6V968.6M697.16 964.6V968.6M729.5 964.6V968.6" stroke="#666" stroke-width="1.6" fill="none"/>
<line x1="454.27" y1="836.3" x2="454.27" y2="830.2" stroke="#5a5a5a" stroke-width="1.3"/>
<line x1="451.47" y1="830.2" x2="457.07" y2="830.2" stroke="#3a3a3a" stroke-width="1.5"/>
<rect x="447.47" y="836.3" width="13.6" height="128.3" fill="#111"/>
<line x1="486.62" y1="840.9" x2="486.62" y2="832.2" stroke="#5a5a5a" stroke-width="1.3"/>
<line x1="483.82" y1="832.2" x2="489.42" y2="832.2" stroke="#3a3a3a" stroke-width="1.5"/>
<rect x="479.82" y="840.9" width="13.6" height="123.7" fill="#111"/>
<line x1="518.96" y1="850.7" x2="518.96" y2="843.1" stroke="#5a5a5a" stroke-width="1.3"/>
<line x1="516.16" y1="843.1" x2="521.76" y2="843.1" stroke="#3a3a3a" stroke-width="1.5"/>
<rect x="512.16" y="850.7" width="13.6" height="113.9" fill="#111"/>
<line x1="551.31" y1="871.7" x2="551.31" y2="864.4" stroke="#5a5a5a" stroke-width="1.3"/>
<line x1="548.51" y1="864.4" x2="554.11" y2="864.4" stroke="#3a3a3a" stroke-width="1.5"/>
<rect x="544.51" y="871.7" width="13.6" height="92.9" fill="#111"/>
<line x1="583.65" y1="904.7" x2="583.65" y2="900.4" stroke="#5a5a5a" stroke-width="1.3"/>
<line x1="580.85" y1="900.4" x2="586.45" y2="900.4" stroke="#3a3a3a" stroke-width="1.5"/>
<rect x="576.85" y="904.7" width="13.6" height="59.9" fill="#111"/>
<line x1="615.99" y1="926.6" x2="615.99" y2="924.4" stroke="#5a5a5a" stroke-width="1.3"/>
<line x1="613.19" y1="924.4" x2="618.79" y2="924.4" stroke="#3a3a3a" stroke-width="1.5"/>
<rect x="609.19" y="926.6" width="13.6" height="38" fill="#111"/>
<line x1="648.34" y1="950" x2="648.34" y2="948.4" stroke="#5a5a5a" stroke-width="1.3"/>
<line x1="645.54" y1="948.4" x2="651.14" y2="948.4" stroke="#3a3a3a" stroke-width="1.5"/>
<rect x="641.54" y="950" width="13.6" height="14.6" fill="#111"/>
<line x1="680.68" y1="960.6" x2="680.68" y2="959.8" stroke="#5a5a5a" stroke-width="1.3"/>
<line x1="677.88" y1="959.8" x2="683.48" y2="959.8" stroke="#3a3a3a" stroke-width="1.5"/>
<rect x="673.88" y="960.6" width="13.6" height="4" fill="#111"/>
<line x1="713.03" y1="962.5" x2="713.03" y2="962" stroke="#5a5a5a" stroke-width="1.3"/>
<line x1="710.23" y1="962" x2="715.83" y2="962" stroke="#3a3a3a" stroke-width="1.5"/>
<rect x="706.23" y="962.5" width="13.6" height="2.1" fill="#111"/>
<text transform="translate(430.4 968.9) scale(1 1.04)" text-anchor="end">0</text>
<text transform="translate(431.3 935.88) scale(1 1.04)" text-anchor="end">20</text>
<text transform="translate(431.3 902.86) scale(1 1.04)" text-anchor="end">40</text>
<text transform="translate(431.3 869.84) scale(1 1.04)" text-anchor="end">60</text>
<text transform="translate(431.3 836.82) scale(1 1.04)" text-anchor="end">80</text>
<text transform="translate(432.4 804.3) scale(1 1.04)" text-anchor="end"><tspan class="h">1</tspan>00</text><use href="#one" transform="translate(432.4 804.3) scale(1 1.04) translate(-22.18 0.00) scale(0.00649 -0.00649)" stroke-width="46.2"/>
<text transform="translate(455.57 990.6) scale(1 1.04)" text-anchor="middle">C</text>
<text transform="translate(488.15 990.6) scale(1 1.04)" text-anchor="middle">0.3</text>
<text transform="translate(520.73 990.6) scale(1 1.04)" text-anchor="middle"><tspan class="h">1</tspan></text><use href="#one" transform="translate(520.73 990.6) scale(1 1.04) translate(-3.70 0.00) scale(0.00649 -0.00649)" stroke-width="46.2"/>
<text transform="translate(553.31 990.6) scale(1 1.04)" text-anchor="middle">3</text>
<text transform="translate(585.89 990.6) scale(1 1.04)" text-anchor="middle"><tspan class="h">1</tspan>0</text><use href="#one" transform="translate(585.89 990.6) scale(1 1.04) translate(-7.40 0.00) scale(0.00649 -0.00649)" stroke-width="46.2"/>
<text transform="translate(618.47 990.6) scale(1 1.04)" text-anchor="middle">30</text>
<text transform="translate(651.05 990.6) scale(1 1.04)" text-anchor="middle"><tspan class="h">1</tspan>00</text><use href="#one" transform="translate(651.05 990.6) scale(1 1.04) translate(-11.09 0.00) scale(0.00649 -0.00649)" stroke-width="46.2"/>
<text transform="translate(683.63 990.6) scale(1 1.04)" text-anchor="middle">300</text>
<text transform="translate(716.21 990.6) scale(1 1.04)" text-anchor="middle"><tspan class="h">1</tspan> 000</text><use href="#one" transform="translate(716.21 990.6) scale(1 1.04) translate(-16.63 0.00) scale(0.00649 -0.00649)" stroke-width="46.2"/>
</g>
</svg>
</body></html>
